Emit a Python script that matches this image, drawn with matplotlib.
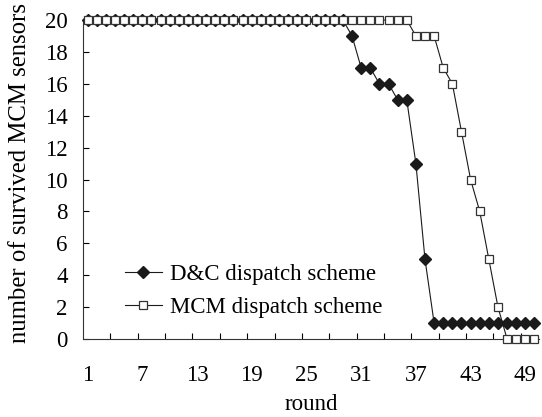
import numpy as np
import matplotlib
matplotlib.use("Agg")
import matplotlib.pyplot as plt

plt.rcParams["font.family"] = ["Liberation Serif", "DejaVu Serif"]

rounds = list(range(1, 51))
dc_survived = [20] * 29 + [19, 17, 17, 16, 16, 15, 15, 11, 5] + [1] * 12
mcm_survived = [20] * 36 + [19, 19, 19, 17, 16, 13, 10, 8, 5, 2] + [0] * 4
tick_labels = ["1", "7", "13", "19", "25", "31", "37", "43", "49"]

FS = 16.5
W, H = 542, 417

fig = plt.figure(figsize=(5.42, 4.17), dpi=100)
ax = fig.add_axes([83 / W, 1 - 339 / H, 456 / W, 319 / H])

ax.plot(rounds, dc_survived, color="#1a1a1a", lw=0.8, marker="D", ms=6.5,
        mfc="#1a1a1a", mec="#1a1a1a", label="D&C dispatch scheme", clip_on=False, zorder=3)
ax.plot(rounds, mcm_survived, color="#1a1a1a", lw=0.8, marker="s", ms=5.5,
        mfc="white", mec="#333333", mew=0.9, label="MCM dispatch scheme", clip_on=False, zorder=4)

ax.set_xlim(0.5, 50.5)
ax.set_ylim(0, 20)
ax.set_yticks(np.arange(0, 21, 2))
ax.set_xticks([int(t) for t in tick_labels])
ax.set_xticklabels(tick_labels)
ax.set_xticks(np.arange(3.5, 50, 3), minor=True)

ax.tick_params(axis="x", which="major", length=0, pad=19, labelsize=FS)
ax.tick_params(axis="x", which="minor", direction="in", length=4, width=0.8)
ax.tick_params(axis="y", direction="in", length=4, width=0.8, pad=11, labelsize=FS)

for side in ["top", "right"]:
    ax.spines[side].set_visible(False)
for side in ["left", "bottom"]:
    ax.spines[side].set_linewidth(0.8)
    ax.spines[side].set_color("#333333")

fig.text(311 / W, 1 - 404 / H, "round", fontsize=FS, ha="center", va="center")
fig.text(20 / W, 1 - 173 / H, "number of survived MCM sensors", fontsize=17.8,
         rotation=90, ha="center", va="center")

ax.legend(loc="upper left", bbox_to_anchor=(0.092, 0.235), frameon=False, fontsize=FS,
          borderpad=0, borderaxespad=0, handlelength=1.6, handletextpad=0.35,
          labelspacing=0.5)

fig.savefig("out.png", dpi=100)
